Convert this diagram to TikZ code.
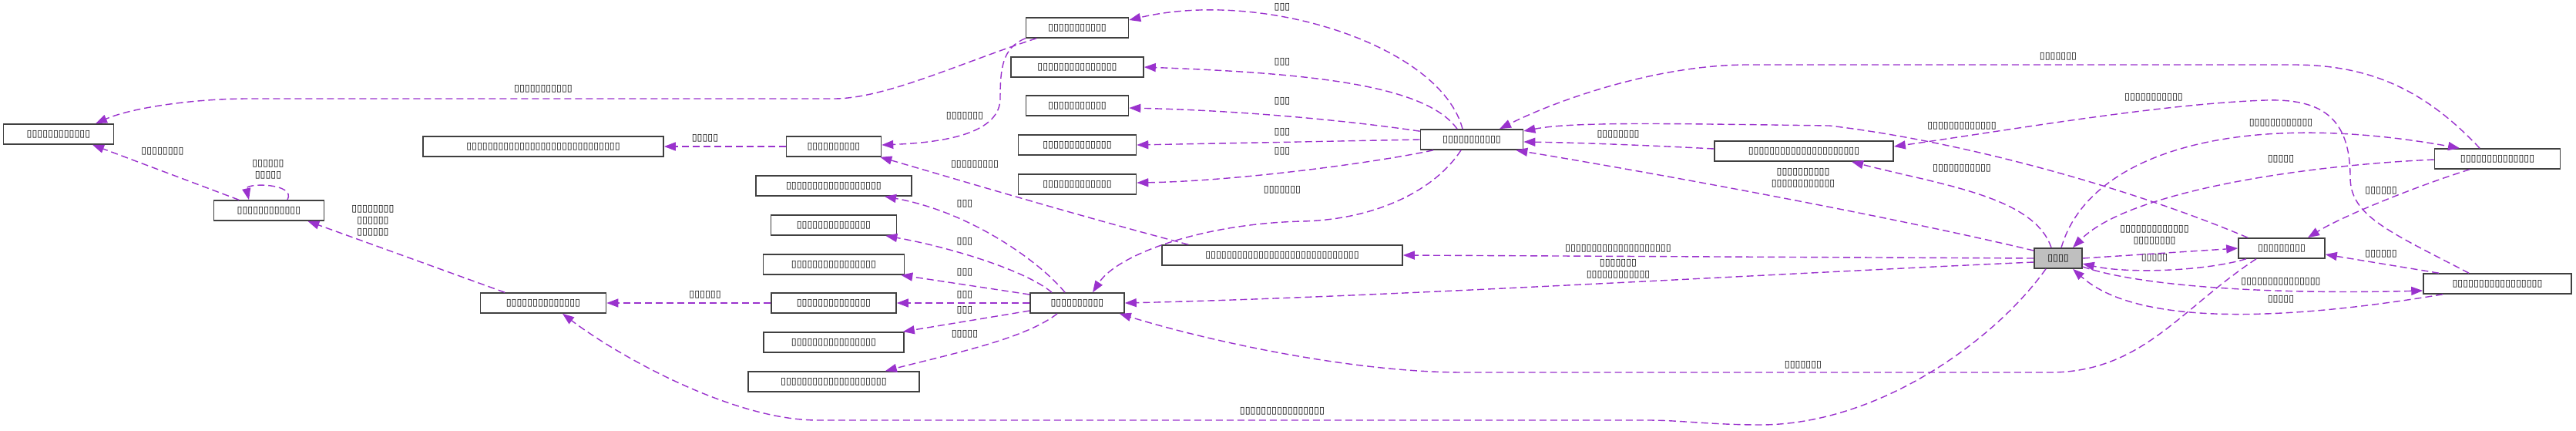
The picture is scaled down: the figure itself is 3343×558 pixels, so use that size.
\documentclass[tikz,border=0pt]{standalone}
\usepackage{fontspec}
\usetikzlibrary{arrows.meta}
\newfontfamily\tofu{DejaVu Sans}
\definecolor{edgec}{HTML}{9A32CD}
\tikzset{
  box/.style={draw=black!75, line width=1.6pt, minimum height=26pt, inner sep=0pt, font=\tofu\fontsize{12.5}{15}\selectfont, text=black},
  lab/.style={inner sep=0pt, font=\tofu\fontsize{12.5}{15}\selectfont, text=black, align=center},
  e/.style={draw=edgec, line width=1.4pt, dash pattern=on 9pt off 5pt, -{Triangle[length=15pt,width=11pt]}},
}
\begin{document}
\begin{tikzpicture}[x=1pt,y=-1pt]
\useasboundingbox (0,0) rectangle (3343,558);
% nodes
\node[box, minimum width=133pt] (N1) at (1398,36) {▯▯▯▯▯▯▯▯▯▯▯};
\node[box, minimum width=172pt] (N2) at (1398,87) {▯▯▯▯▯▯▯▯▯▯▯▯▯▯▯};
\node[box, minimum width=133pt] (N3) at (1398,137) {▯▯▯▯▯▯▯▯▯▯▯};
\node[box, minimum width=153pt] (N4) at (1398,188) {▯▯▯▯▯▯▯▯▯▯▯▯▯};
\node[box, minimum width=153pt] (N5) at (1398,239) {▯▯▯▯▯▯▯▯▯▯▯▯▯};
\node[box, minimum width=133pt] (N6) at (1910,181) {▯▯▯▯▯▯▯▯▯▯▯};
\node[box, minimum width=232pt] (N7) at (2341,196) {▯▯▯▯▯▯▯▯▯▯▯▯▯▯▯▯▯▯▯▯▯};
\node[box, minimum width=163pt] (N8) at (3241,206) {▯▯▯▯▯▯▯▯▯▯▯▯▯▯};
\node[box, minimum width=112pt] (N9) at (2961,322) {▯▯▯▯▯▯▯▯▯};
\node[box, minimum width=62pt, fill=black!25] (Main) at (2671,335) {▯▯▯▯};
\node[box, minimum width=192pt] (N11) at (3241,368) {▯▯▯▯▯▯▯▯▯▯▯▯▯▯▯▯▯};
\node[box, minimum width=312pt] (N12) at (1664,331) {▯▯▯▯▯▯▯▯▯▯▯▯▯▯▯▯▯▯▯▯▯▯▯▯▯▯▯▯▯};
\node[box, minimum width=122pt] (N13) at (1398,393) {▯▯▯▯▯▯▯▯▯▯};
\node[box, minimum width=123pt] (N14) at (1082,190) {▯▯▯▯▯▯▯▯▯▯};
\node[box, minimum width=312pt] (N15) at (705,190) {▯▯▯▯▯▯▯▯▯▯▯▯▯▯▯▯▯▯▯▯▯▯▯▯▯▯▯▯▯};
\node[box, minimum width=143pt] (N16) at (76,174) {▯▯▯▯▯▯▯▯▯▯▯▯};
\node[box, minimum width=143pt] (N17) at (349,273) {▯▯▯▯▯▯▯▯▯▯▯▯};
\node[box, minimum width=202pt] (N18) at (1082,241) {▯▯▯▯▯▯▯▯▯▯▯▯▯▯▯▯▯▯};
\node[box, minimum width=163pt] (N19) at (1082,292) {▯▯▯▯▯▯▯▯▯▯▯▯▯▯};
\node[box, minimum width=183pt] (N20) at (1082,343) {▯▯▯▯▯▯▯▯▯▯▯▯▯▯▯▯};
\node[box, minimum width=162pt] (N21) at (1082,393) {▯▯▯▯▯▯▯▯▯▯▯▯▯▯};
\node[box, minimum width=182pt] (N22) at (1082,444) {▯▯▯▯▯▯▯▯▯▯▯▯▯▯▯▯};
\node[box, minimum width=222pt] (N23) at (1082,495) {▯▯▯▯▯▯▯▯▯▯▯▯▯▯▯▯▯▯▯▯};
\node[box, minimum width=163pt] (N24) at (705,393) {▯▯▯▯▯▯▯▯▯▯▯▯▯▯};
% labels
\node[lab] (la) at (1664,9) {▯▯▯};
\node[lab] (lb) at (1664,80) {▯▯▯};
\node[lab] (lc) at (1664,131) {▯▯▯};
\node[lab] (ld) at (1664,171) {▯▯▯};
\node[lab] (le) at (1664,196) {▯▯▯};
\node[lab] (lf) at (1664,246) {▯▯▯▯▯▯▯};
\node[lab] (lg) at (2100,174) {▯▯▯▯▯▯▯▯};
\node[lab] (lh) at (2340,231) {▯▯▯▯▯▯▯▯▯▯\\▯▯▯▯▯▯▯▯▯▯▯▯};
\node[lab] (li) at (2546,163) {▯▯▯▯▯▯▯▯▯▯▯▯▯};
\node[lab] (lj) at (2546,218) {▯▯▯▯▯▯▯▯▯▯▯};
\node[lab] (lk) at (2100,322) {▯▯▯▯▯▯▯▯▯▯▯▯▯▯▯▯▯▯▯▯};
\node[lab] (ll) at (2100,349) {▯▯▯▯▯▯▯\\▯▯▯▯▯▯▯▯▯▯▯▯};
\node[lab] (lm) at (2960,159) {▯▯▯▯▯▯▯▯▯▯▯▯};
\node[lab] (ln) at (2960,206) {▯▯▯▯▯};
\node[lab] (lo) at (3090,247) {▯▯▯▯▯▯};
\node[lab] (lp) at (2796,305) {▯▯▯▯▯▯▯▯▯▯▯▯▯\\▯▯▯▯▯▯▯▯};
\node[lab] (lq) at (2796,334) {▯▯▯▯▯};
\node[lab] (lr) at (3090,329) {▯▯▯▯▯▯};
\node[lab] (ls) at (2960,365) {▯▯▯▯▯▯▯▯▯▯▯▯▯▯▯};
\node[lab] (lt) at (2960,388) {▯▯▯▯▯};
\node[lab] (lu) at (2340,473) {▯▯▯▯▯▯▯};
\node[lab] (lv) at (1664,533) {▯▯▯▯▯▯▯▯▯▯▯▯▯▯▯▯};
\node[lab] (ly) at (2671,73) {▯▯▯▯▯▯▯};
\node[lab] (lx) at (2795,126) {▯▯▯▯▯▯▯▯▯▯▯};
\node[lab] (l1) at (705,115) {▯▯▯▯▯▯▯▯▯▯▯};
\node[lab] (l2) at (1252,150) {▯▯▯▯▯▯▯};
\node[lab] (l3) at (915,179) {▯▯▯▯▯};
\node[lab] (l4) at (1265,213) {▯▯▯▯▯▯▯▯▯};
\node[lab] (l5) at (1252,264) {▯▯▯};
\node[lab] (l6) at (1252,313) {▯▯▯};
\node[lab] (l7) at (1252,353) {▯▯▯};
\node[lab] (l8) at (1252,382) {▯▯▯};
\node[lab] (l9) at (1252,402) {▯▯▯};
\node[lab] (l10) at (1252,433) {▯▯▯▯▯};
\node[lab] (l11) at (915,382) {▯▯▯▯▯▯};
\node[lab] (l12) at (484,286) {▯▯▯▯▯▯▯▯\\▯▯▯▯▯▯\\▯▯▯▯▯▯};
\node[lab] (l13) at (348,220) {▯▯▯▯▯▯\\▯▯▯▯▯};
\node[lab] (l14) at (211,196) {▯▯▯▯▯▯▯▯};
% edges from N6
\draw[e] ([xshift=-12pt]N6.north) .. controls (1870,60) and (1640,-15) .. ([yshift=10pt]N1.east);
\draw[e] ([xshift=-19pt]N6.north) .. controls (1850,110) and (1700,95) .. (N2.east);
\draw[e] ([yshift=-3pt]N6.north west) .. controls (1740,155) and (1600,143) .. ([yshift=-3pt]N3.east);
\draw[e] (N6.west) -- (N4.east);
\draw[e] ([xshift=-50pt]N6.south) .. controls (1780,212) and (1600,235) .. ([yshift=2pt]N5.east);
\draw[e] ([xshift=-14pt]N6.south) .. controls (1860,250) and (1780,285) .. (1690,287) .. controls (1560,290) and (1450,330) .. ([xshift=20pt]N13.north);
% into N6
\draw[e] ([yshift=3pt]N7.west) .. controls (2150,189) and (2050,185) .. ([yshift=-3pt]N6.east);
\draw[e] ([yshift=10pt]Main.west) .. controls (2450,280) and (2150,225) .. ([xshift=-10pt]N6.south east);
\draw[e] ([xshift=-44pt]N9.north) .. controls (2780,250) and (2560,185) .. (2374,163) .. controls (2150,160) and (2040,158) .. ([yshift=11pt]N6.east);
\draw[e] ([xshift=-23pt]N8.north) .. controls (3150,120) and (3080,84) .. (2976,84) -- (2268,84) .. controls (2150,84) and (2020,130) .. ([xshift=36pt]N6.north);
% N7
\draw[e] ([xshift=-9pt]Main.north) .. controls (2640,255) and (2520,240) .. ([xshift=62pt]N7.south);
\draw[e] ([xshift=-37pt]N11.north) .. controls (3100,300) and (3050,280) .. (3050,230) .. controls (3050,150) and (3010,128) .. (2940,130) .. controls (2800,135) and (2600,170) .. ([yshift=6pt]N7.east);
% Main out
\draw[e] (Main.west) -- (N12.east);
\draw[e] ([yshift=-5pt]Main.west) .. controls (2300,355) and (1800,385) .. (N13.east);
\draw[e] ([xshift=4pt]Main.north) .. controls (2710,200) and (2900,140) .. ([xshift=-49pt]N8.north);
\draw[e] ([yshift=-1pt]N8.west) .. controls (2980,215) and (2760,250) .. ([xshift=19pt]Main.north);
\draw[e] ([xshift=-36pt]N8.south) .. controls (3140,240) and (3040,280) .. ([xshift=34pt]N9.north);
\draw[e] (Main.east) -- (N9.west);
\draw[e] ([xshift=-46pt]N9.south) .. controls (2860,352) and (2760,355) .. ([yshift=-7pt]Main.east);
\draw[e] ([xshift=-76pt]N11.north) -- ([yshift=-8pt]N9.east);
\draw[e] ([yshift=-11pt]Main.east) .. controls (2780,372) and (2950,382) .. ([yshift=-9pt]N11.west);
\draw[e] ([xshift=-71pt]N11.south) .. controls (3000,410) and (2780,430) .. ([xshift=19pt]Main.south);
\draw[e] ([xshift=-33pt]N9.south) .. controls (2830,400) and (2780,483) .. (2660,483) -- (1900,483) .. controls (1750,483) and (1560,440) .. ([xshift=-7pt]N13.south east);
\draw[e] ([xshift=-16pt]Main.south) .. controls (2590,440) and (2440,550) .. (2286,551) .. controls (2220,551) and (2180,545) .. (2139,545) -- (1061,545) .. controls (950,545) and (800,460) .. ([xshift=25pt]N24.south);
% left part
\draw[e] ([xshift=-53pt]N1.south) .. controls (1250,80) and (1150,128) .. (1082,128) -- (323,128) .. controls (250,128) and (170,140) .. ([xshift=48pt]N16.north);
\draw[e] (N1.south west) .. controls (1300,62) and (1298,90) .. (1298,130) .. controls (1295,175) and (1220,185) .. ([yshift=2pt]N14.east);
\draw[e] (N14.west) -- (N15.east);
\draw[e] ([xshift=35pt]N12.north west) .. controls (1400,280) and (1250,235) .. ([xshift=-2pt]N14.south east);
\draw[e] ([xshift=-16pt]N13.north) .. controls (1350,340) and (1260,275) .. ([xshift=66pt]N18.south);
\draw[e] ([xshift=-33pt]N13.north) .. controls (1330,350) and (1230,320) .. ([xshift=-15pt]N19.south east);
\draw[e] ([yshift=11pt]N13.west) -- ([xshift=-5pt]N20.south east);
\draw[e] (N13.west) -- (N21.east);
\draw[e] ([yshift=-10pt]N13.west) -- ([xshift=-2pt]N22.north east);
\draw[e] ([xshift=-26pt]N13.south) .. controls (1330,440) and (1230,460) .. ([xshift=-45pt]N23.north east);
\draw[e] (N21.west) -- (N24.east);
\draw[e] ([xshift=-50pt]N24.north) -- ([xshift=-22pt]N17.south east);
\draw[e] ([xshift=-39pt]N17.north) -- ([xshift=44pt]N16.south);
\draw[e] ([xshift=24pt]N17.north) .. controls (385,237) and (318,237) .. ([xshift=-26pt]N17.north);
\end{tikzpicture}
\end{document}
